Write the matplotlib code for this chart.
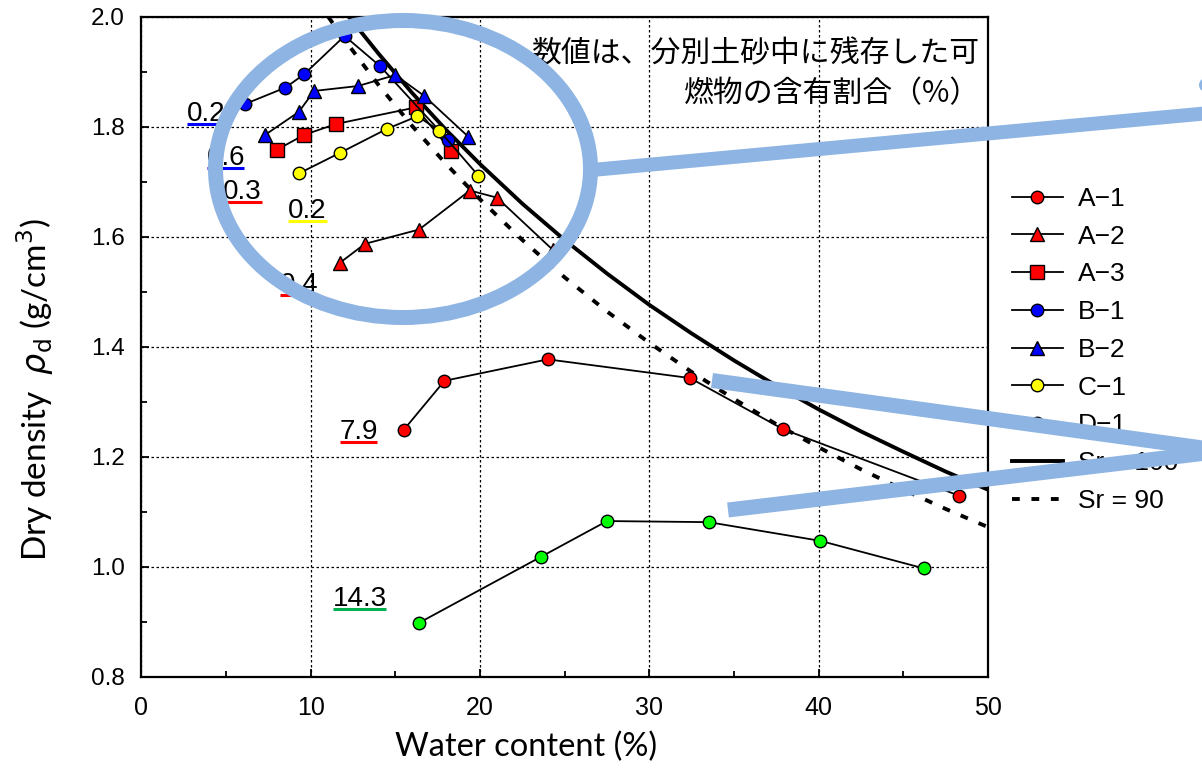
import matplotlib
matplotlib.use('Agg')
import matplotlib.pyplot as plt
from matplotlib.lines import Line2D
from matplotlib.patches import Ellipse
from matplotlib.transforms import Affine2D
from matplotlib.ticker import MultipleLocator, FormatStrFormatter

# compaction test results: water content (%) / dry density (g/cm3)
a1_w = [15.5, 17.9, 24.0, 32.4, 37.9, 48.3]
a1_d = [1.249, 1.338, 1.377, 1.343, 1.250, 1.129]
a2_w = [11.7, 13.2, 16.4, 19.4, 21.0, 24.3]
a2_d = [1.552, 1.587, 1.613, 1.684, 1.671, 1.576]
a3_w = [8.0, 9.6, 11.5, 16.2, 18.3]
a3_d = [1.758, 1.785, 1.805, 1.835, 1.756]
b1_w = [6.1, 8.5, 9.6, 12.0, 14.1, 18.1]
b1_d = [1.841, 1.871, 1.895, 1.965, 1.910, 1.776]
b2_w = [7.3, 9.3, 10.2, 12.8, 15.0, 16.7, 19.3]
b2_d = [1.785, 1.827, 1.865, 1.874, 1.894, 1.856, 1.782]
c1_w = [9.3, 11.7, 14.5, 16.3, 17.6, 19.9]
c1_d = [1.715, 1.752, 1.796, 1.819, 1.793, 1.711]
d1_w = [16.4, 23.6, 27.5, 33.5, 40.1, 46.2]
d1_d = [0.898, 1.018, 1.083, 1.081, 1.047, 0.997]

# saturation curves
sr100_w = [12.25, 14, 16, 18, 20, 22.5, 25, 27.5, 30, 32.5, 35, 37.5, 40, 42.5, 45, 47.5, 50]
sr100_d = [2.000, 1.933, 1.861, 1.794, 1.732, 1.660, 1.594, 1.533, 1.476, 1.424, 1.375,
           1.329, 1.286, 1.246, 1.209, 1.173, 1.140]
sr90_w = [11.03, 12, 14, 16, 18, 20, 22.5, 25, 27.5, 30, 32.5, 35, 37.5, 40, 42.5, 45, 47.5, 50]
sr90_d = [2.000, 1.958, 1.876, 1.801, 1.732, 1.668, 1.594, 1.526, 1.464, 1.407, 1.354,
          1.305, 1.259, 1.217, 1.177, 1.140, 1.105, 1.072]

# combustible content labels (text, underline colour, x, underline y, underline width)
lab_text = ['0.2', '0.6', '0.3', '0.2', '0.4', '7.9', '14.3']
lab_color = ['#0000FF', '#0000FF', '#FF0000', '#FFFF00', '#FF0000', '#FF0000', '#00B050']
lab_x = [2.69, 3.88, 4.82, 8.66, 8.19, 11.70, 11.31]
lab_y = [1.805, 1.725, 1.663, 1.629, 1.494, 1.227, 0.924]
lab_len = [1.8, 2.2, 2.3, 2.3, 2.25, 2.2, 3.15]

note = '数値は、分別土砂中に残存した可\n燃物の含有割合（%）'

W, H = 1202, 772
fig = plt.figure(figsize=(W / 100, H / 100), dpi=100)
ax = fig.add_axes([141.4 / W, 1 - 676.7 / H, (988 - 141.4) / W, (676.7 - 16.7) / H])

series = [
    ('A−1', a1_w, a1_d, 'o', '#FF0000', 9),
    ('A−2', a2_w, a2_d, '^', '#FF0000', 10.5),
    ('A−3', a3_w, a3_d, 's', '#FF0000', 9.5),
    ('B−1', b1_w, b1_d, 'o', '#0000FF', 9),
    ('B−2', b2_w, b2_d, '^', '#0000FF', 10.5),
    ('C−1', c1_w, c1_d, 'o', '#FFFF00', 9),
    ('D−1', d1_w, d1_d, 'o', '#00FF00', 9),
]
for name, w, d, m, c, ms in series:
    ax.plot(w, d, color='black', lw=1.3, marker=m, ms=ms, mfc=c, mec='black',
            mew=1.0, label=name, zorder=4)

ax.plot(sr100_w, sr100_d, color='black', lw=2.8, label='Sr = 100', zorder=3)
ax.plot(sr90_w, sr90_d, color='black', lw=2.8, linestyle=(0, (2, 3)), label='Sr = 90', zorder=3)

ax.set_xlim(0, 50)
ax.set_ylim(0.8, 2.0)
ax.xaxis.set_major_locator(MultipleLocator(10))
ax.xaxis.set_minor_locator(MultipleLocator(5))
ax.yaxis.set_major_locator(MultipleLocator(0.2))
ax.yaxis.set_minor_locator(MultipleLocator(0.1))
ax.yaxis.set_major_formatter(FormatStrFormatter('%.1f'))
ax.tick_params(which='both', direction='in', width=1.3)
ax.tick_params(which='major', length=5.5)
ax.tick_params(which='minor', length=4)
ax.tick_params(axis='y', pad=12, labelsize=17.5)
ax.tick_params(axis='x', pad=14, labelsize=18)
for t in ax.get_yticklabels() + ax.get_xticklabels():
    t.set_family('Liberation Sans')
ax.grid(which='major', color='black', linestyle=(0, (2, 2)), lw=0.9)
for s in ax.spines.values():
    s.set_linewidth(1.6)

for txt, c, x, y, ln in zip(lab_text, lab_color, lab_x, lab_y, lab_len):
    ax.text(x, y + 3 / 550, txt, fontsize=20, family='Liberation Sans',
            ha='left', va='baseline', zorder=5)
    ax.plot([x, x + ln], [y, y], color=c, lw=2.2, solid_capstyle='butt', zorder=5)

fig.text(980 / W, 1 - 73.5 / H, note, ha='right', va='center', fontsize=21.5,
         family=['Noto Sans CJK JP', 'DejaVu Sans'], linespacing=1.36)

fig.text(526 / W, 1 - 747 / H, 'Water content (%)', ha='center', va='center',
         fontsize=23.5, family='Lato')
fig.text(35 / W, 1 - 390 / H, 'Dry density  $\\rho_{\\rm d}$ (g/cm$^3$)', rotation=90,
         ha='center', va='center', fontsize=24, family='Lato')

leg = ax.legend(loc='upper left', bbox_to_anchor=(1011.7 / W, 1 - 187 / H),
                bbox_transform=fig.transFigure, frameon=False,
                handlelength=1.95, handletextpad=0.55, labelspacing=0.52,
                borderpad=0, borderaxespad=0, prop={'family': 'Liberation Sans', 'size': 19})

# light blue call-out overlay, in image pixel coordinates
blue = '#8DB4E2'
px = Affine2D().scale(1, -1).translate(0, H)
fig.add_artist(Ellipse((403, 169), 375, 297, fill=False, ec=blue, lw=15 * 0.72,
                       transform=px, zorder=10))
bars = [([592, 1210], [170, 113], 14), ([712, 1210], [380.5, 449], 15), ([728, 1210], [510, 452.6], 15)]
for xs, ys, wpx in bars:
    fig.add_artist(Line2D(xs, ys, color=blue, lw=wpx * 0.72, solid_capstyle='butt',
                          transform=px, zorder=10))
fig.add_artist(Ellipse((1206, 85), 14, 14, fc=blue, ec='none', transform=px, zorder=10))

fig.savefig('out.png', dpi=100)
